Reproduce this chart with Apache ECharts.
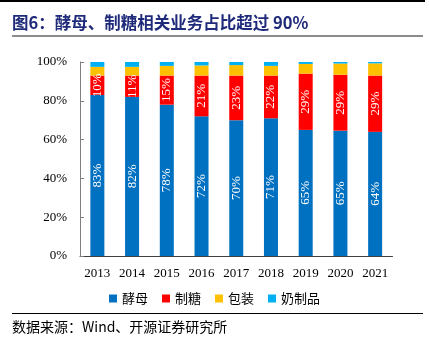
<!DOCTYPE html>
<html><head><meta charset="utf-8">
<script src="https://cdn.jsdelivr.net/npm/echarts@6/dist/echarts.min.js"></script>
<style>html,body{margin:0;padding:0;background:#fff}#c{width:429px;height:346px}</style>
</head><body><div id="c"></div>
<script>
var years = ['2013','2014','2015','2016','2017','2018','2019','2020','2021'];
var yeast = [83, 82, 78, 72, 70, 71, 65, 64.6, 64];
var sugar = [10, 11, 15, 21, 23, 22, 29, 28.8, 29];
var packaging = [4.5, 4.5, 5, 5.2, 5.4, 5, 5, 5.8, 6.3];
var dairy = [2.5, 2.5, 2, 1.8, 1.6, 2, 1, 0.8, 0.7];
var yTicks = ['0%','20%','40%','60%','80%','100%'];
var seriesNames = ['酵母','制糖','包装','奶制品'];
var colors = ['#0070C0','#FF0000','#FFC000','#00B0F0'];

var chart = echarts.init(document.getElementById('c'));
var serif = '"Liberation Serif","Times New Roman",serif';
var cjk = '"Noto Sans CJK SC",sans-serif';
function lbl(show){
  return {show: show, position: 'inside', rotate: 90, color: '#fff',
    fontFamily: serif, fontSize: 13,
    formatter: function(p){ return Math.round(p.value) + '%'; }};
}
var dataArr = [yeast, sugar, packaging, dairy];
var series = dataArr.map(function(d, i){
  return {name: seriesNames[i], type: 'bar', stack: 'a', data: d, barWidth: 14,
    itemStyle: {color: colors[i]}, label: lbl(i < 2)};
});
chart.setOption({
  animation: false,
  color: colors,
  grid: {left: 80, right: 36.5, top: 62, bottom: 90},
  legend: {data: seriesNames, top: 287, left: 'center', itemWidth: 8, itemHeight: 8, itemGap: 14,
    icon: 'rect', textStyle: {fontFamily: cjk, fontSize: 13, color: '#000'}},
  xAxis: {type: 'category', data: years,
    axisLine: {lineStyle: {color: '#404040', width: 1}},
    axisTick: {inside: true, length: 4, lineStyle: {color: '#404040'}},
    axisLabel: {fontFamily: serif, fontSize: 13, color: '#000', margin: 11}},
  yAxis: {type: 'value', min: 0, max: 100, interval: 20,
    axisLine: {show: true, lineStyle: {color: '#808080', width: 1}},
    axisTick: {show: true, inside: true, length: 4, lineStyle: {color: '#808080'}},
    splitLine: {show: false},
    axisLabel: {fontFamily: serif, fontSize: 13, color: '#000', margin: 13,
      formatter: function(v){ return yTicks[v/20]; }}},
  series: series,
  graphic: [
    {type: 'rect', shape: {x: 0, y: 0, width: 425, height: 2}, style: {fill: '#000'}},
    {type: 'text', left: 12, top: 14, style: {text: '图6：酵母、制糖相关业务占比超过 90%',
      font: 'bold 16.5px "Noto Sans CJK SC",sans-serif', fill: '#1F2A7A'}},
    {type: 'rect', shape: {x: 12, y: 35, width: 411, height: 2}, style: {fill: '#8C8C8C'}},
    {type: 'rect', shape: {x: 12, y: 313, width: 411, height: 1}, style: {fill: '#000'}},
    {type: 'text', left: 12, top: 320, style: {text: '数据来源：Wind、开源证券研究所',
      font: '14px "Noto Sans CJK SC",sans-serif', fill: '#000'}}
  ]
});
</script></body></html>
